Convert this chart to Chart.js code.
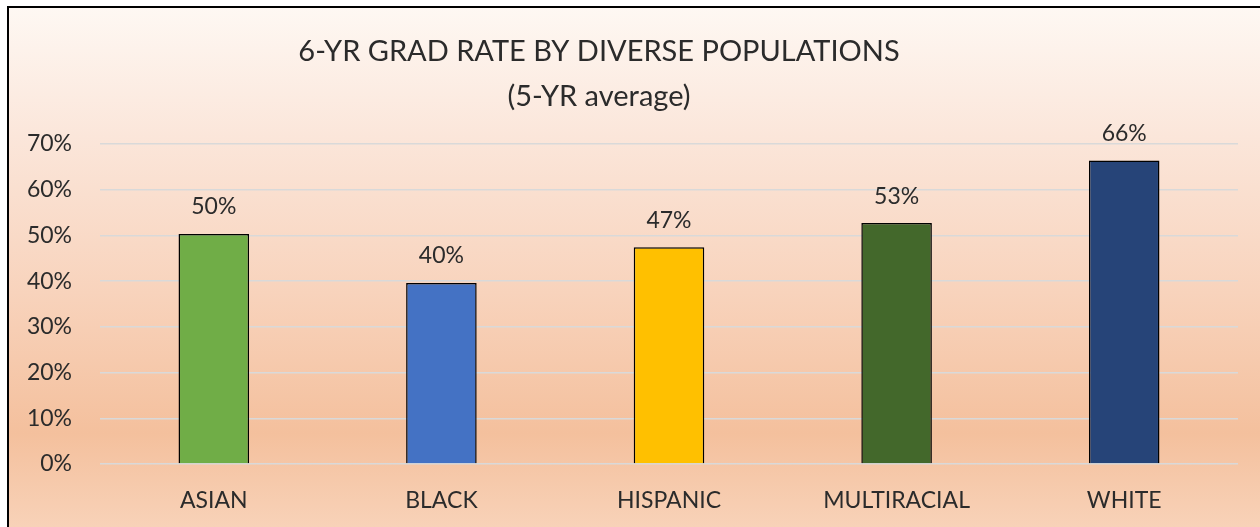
<!DOCTYPE html>
<html>
<head>
<meta charset="utf-8">
<script src="https://cdn.jsdelivr.net/npm/chart.js@4"></script>
<style>
  html, body { margin: 0; padding: 0; background: #fff; }
  #wrap { width: 1260px; height: 527px; position: relative; }
</style>
</head>
<body>
<div id="wrap"><canvas id="gradChart" width="1260" height="527"></canvas></div>
<script>
const categories = ['ASIAN', 'BLACK', 'HISPANIC', 'MULTIRACIAL', 'WHITE'];
const gradRates = [50.3, 39.6, 47.4, 52.7, 66.4];
const barColors = ['#70AD47', '#4472C4', '#FFC000', '#43682B', '#264478'];
const titleLines = ['6-YR GRAD RATE BY DIVERSE POPULATIONS', '(5-YR average)'];

const FONT = 'Lato, "Open Sans", sans-serif';
const TEXT = '#2b2b2b';

// gradient background + frame, title text
const frame = {
	id: 'frame',
	beforeDraw(chart) {
		const c = chart.ctx;
		const g = c.createLinearGradient(0, 7, 0, 527);
		g.addColorStop(0, '#fef8f3');
		g.addColorStop(0.25, '#fbe6da');
		g.addColorStop(0.55, '#f8d3bc');
		g.addColorStop(0.82, '#f4c09d');
		g.addColorStop(1, '#f8d2b8');
		c.save();
		c.fillStyle = '#fff';
		c.fillRect(0, 0, chart.width, chart.height);
		c.fillStyle = g;
		c.fillRect(8, 7, chart.width, chart.height);
		c.strokeStyle = '#000';
		c.lineWidth = 2;
		c.beginPath();
		c.moveTo(8, chart.height);
		c.lineTo(8, 7);
		c.lineTo(chart.width, 7);
		c.stroke();
		c.fillStyle = TEXT;
		c.font = '29px ' + FONT;
		c.textAlign = 'center';
		c.textBaseline = 'middle';
		c.fillText(titleLines[0], 599, 52);
		c.fillText(titleLines[1], 599, 97);
		c.restore();
	},
	afterDatasetsDraw(chart) {
		const c = chart.ctx;
		const meta = chart.getDatasetMeta(0);
		c.save();
		c.fillStyle = TEXT;
		c.font = '23px ' + FONT;
		c.textAlign = 'center';
		c.textBaseline = 'middle';
		meta.data.forEach((bar, i) => {
			c.fillText(Math.round(gradRates[i]) + '%', bar.x, bar.y - 27);
		});
		c.restore();
	}
};

new Chart(document.getElementById('gradChart'), {
	type: 'bar',
	data: {
		labels: categories,
		datasets: [{
			data: gradRates,
			backgroundColor: barColors,
			borderColor: '#000',
			borderWidth: 1.5,
			categoryPercentage: 1,
			barPercentage: 0.31
		}]
	},
	options: {
		responsive: false,
		animation: false,
		layout: { padding: { top: 144, right: 22, left: 20, bottom: 6 } },
		plugins: {
			legend: { display: false },
			tooltip: { enabled: false }
		},
		scales: {
			y: {
				min: 0,
				max: 70,
				afterFit(s) { s.width = 80; },
				ticks: {
					stepSize: 10,
					color: TEXT,
					padding: 28,
					font: { family: FONT, size: 23 },
					callback: v => v + '%'
				},
				grid: { color: '#d9d9d9', lineWidth: 1.5, drawTicks: false },
				border: { display: false }
			},
			x: {
				afterFit(s) { s.height = 57; },
				ticks: {
					color: TEXT,
					padding: 23,
					font: { family: FONT, size: 23 }
				},
				grid: { display: false, drawTicks: false },
				border: { display: false }
			}
		}
	},
	plugins: [frame]
});
</script>
</body>
</html>
